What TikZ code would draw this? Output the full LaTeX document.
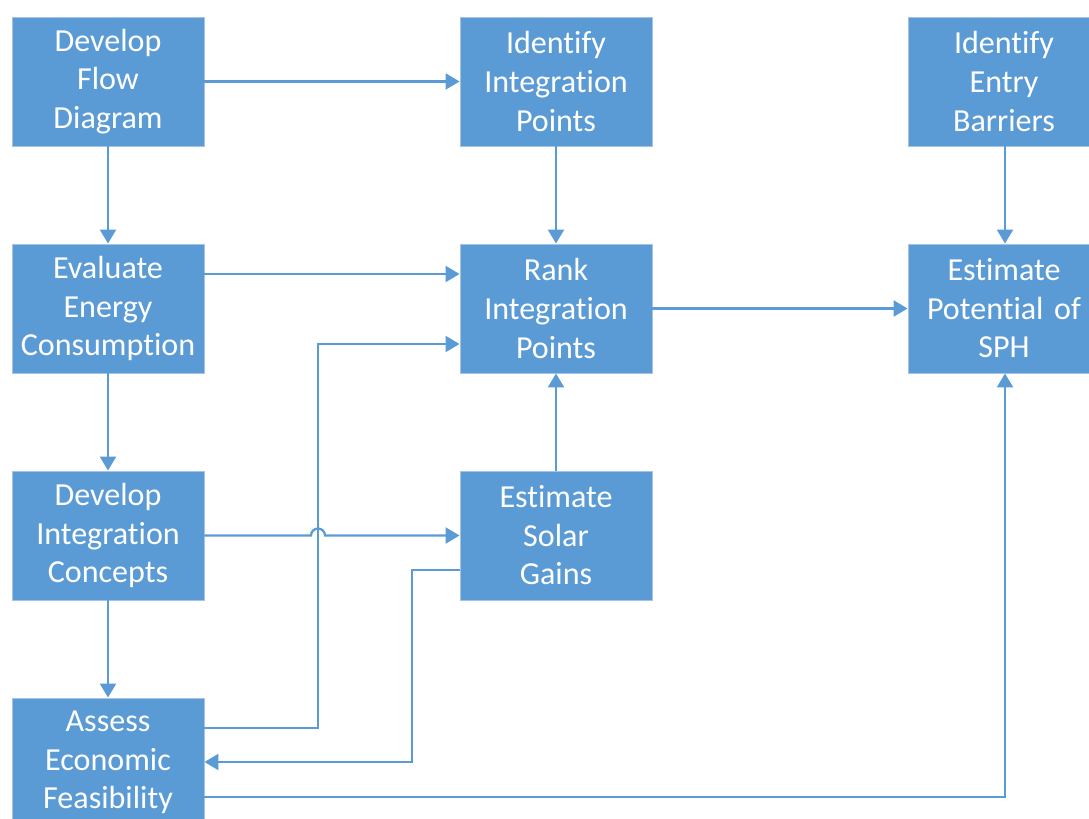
\documentclass[tikz,border=0pt]{standalone}
\usepackage{fontspec}
\setmainfont{Carlito}[Ligatures=NoCommon, Contextuals=NoAlternate, RawFeature=-clig]
\usetikzlibrary{arrows.meta}

\definecolor{boxblue}{HTML}{5B9BD5}
\definecolor{boxedge}{HTML}{A7C3E3}

\begin{document}
\begin{tikzpicture}[x=0.025cm, y=-0.025cm,
    block/.style={rectangle, fill=boxblue, draw=boxedge, line width=0.6pt,
        minimum width=4.8cm, minimum height=3.225cm, inner sep=0pt,
        text width=4.6cm, align=center, text=white,
        font=\fontsize{22.8}{27.4}\selectfont},
    link/.style={draw=boxblue, line width=1.6pt,
        -{Triangle[length=0.35cm, width=0.4cm]}}]
    % Frame
    \clip (0,0) rectangle (1089,819);

    % Boxes
    \node[block] (flow) at (108,81.5) {Develop\\Flow\\Diagram};
    \node[block] (ipoints) at (556,81.5) {Identify\\Integration\\Points};
    \node[block] (barriers) at (1004,81.5) {Identify\\Entry\\Barriers};
    \node[block] (energy) at (108,308.5) {Evaluate\\Energy\\Consumption};
    \node[block] (rank) at (556,308.5) {Rank\\Integration\\Points};
    \node[block] (sph) at (1004,308.5) {Estimate\\Potential of\\SPH};
    \node[block] (concepts) at (108,535.5) {Develop\\Integration\\Concepts};
    \node[block] (solar) at (556,535.5) {Estimate\\Solar\\Gains};
    \node[block] (econ) at (108,762.5) {Assess\\Economic\\Feasibility};

    % Straight links
    \draw[link] (flow) -- (ipoints);
    \draw[link] (flow) -- (energy);
    \draw[link] (ipoints) -- (rank);
    \draw[link] (barriers.south -| 1005,0) -- (sph.north -| 1005,0);
    \draw[link] (energy.east |- 0,274) -- (rank.west |- 0,274);
    \draw[link] (energy) -- (concepts);
    \draw[link] (rank) -- (sph);
    \draw[link] (concepts) -- (econ);
    \draw[link] (solar) -- (rank);

    % Link with hop over the vertical line
    \coordinate (hop) at (311,535.5);
    \draw[link] (concepts.east) -- (hop) arc (180:0:0.175cm) -- (solar.west);

    % Elbow links
    \coordinate (up1) at (318,728);
    \coordinate (up2) at (318,344);
    \draw[link] (econ.east |- up1) -- (up1) -- (up2) -- (rank.west |- up2);
    \coordinate (down1) at (412,570);
    \coordinate (down2) at (412,762);
    \draw[link] (solar.west |- down1) -- (down1) -- (down2) -- (econ.east |- down2);
    \coordinate (far) at (1005,797);
    \draw[link] (econ.east |- far) -- (far) -- (sph.south -| far);
\end{tikzpicture}
\end{document}
